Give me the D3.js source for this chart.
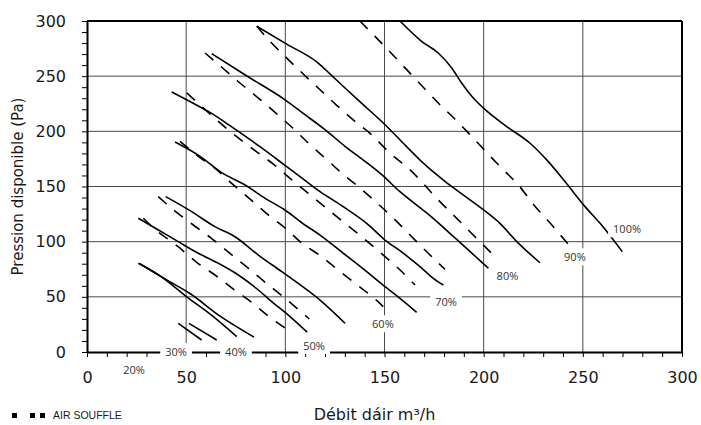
<!DOCTYPE html>
<html>
<head>
<meta charset="utf-8">
<script src="https://cdn.jsdelivr.net/npm/d3@7"></script>
<style>
  body { margin: 0; background: #fff; }
</style>
</head>
<body>
<div id="chart"></div>
<script>
// DATA (flow m3/h, pressure Pa)
const xTicks = [0, 50, 100, 150, 200, 250, 300];
const yTicks = [0, 50, 100, 150, 200, 250, 300];
const gridVals = [50, 100, 150, 200, 250];

const s100 = [[157.8,300],[168.7,281.6],[177.1,271],[183.9,257.4],[188.9,243.8],[194,231.8],[199.8,221.2],[211.6,204.3],[223.4,189.2],[231.8,174.1],[241,154.5],[251,132],[258.7,116.6],[269.9,90.9]];
const d90 = [[137.6,300],[145.2,286.1],[153.3,271],[161.2,255.9],[169.1,240.8],[177.1,225.7],[185.6,211],[193.9,195.5],[203,178],[210,165],[217.5,151.4],[225,134],[235.1,113.6],[243.2,96.4]];
const s90 = [[85.6,295.2],[100.7,279],[116.6,261.9],[123.4,250.5],[130.1,239.3],[140.2,222.7],[150.3,206],[160.4,187.5],[170.4,169.8],[180.5,154.7],[190,142],[199.8,129],[208.2,116.6],[216.7,100],[228.4,80.9]];
const d80 = [[85.6,295.2],[93.1,280],[101.5,265],[109.4,251.3],[117.5,237.7],[125.9,223.6],[135.1,209],[143.5,196.9],[152.8,180.1],[162.9,165],[168.7,154.4],[176.3,139.3],[184.7,124.2],[193.1,109],[204.9,87.9]];
const s80 = [[62.9,270.4],[81,249.7],[99.5,229],[109.9,215.1],[120,201.5],[130.1,186.4],[140.2,172.8],[148.6,160.7],[157.8,145.3],[171.3,126],[186.4,102],[202.4,75.9]];
const d70 = [[59.5,271],[68.4,257.4],[77.1,243.8],[86.4,230.2],[94.8,217.2],[103.7,203],[111.6,189.4],[120,175.8],[128.4,162.2],[137.7,148.5],[146.4,134.8],[154.5,121.2],[162.9,106],[170.9,91.5],[180.5,74.9]];
const s70 = [[42.7,235.7],[53.6,225.4],[63,216],[73,204],[87.2,186.1],[100.7,168],[107.4,159],[117.5,145.3],[129.2,131.7],[141,116.6],[150.3,101.5],[159.5,89.5],[167.9,77.3],[174.6,66.8],[179.7,60.7]];
const d60 = [[50.3,234.8],[58.6,221.2],[67.1,207.6],[76.3,194],[85.2,181.9],[94.3,169.8],[103.2,156.2],[111.6,143.8],[120.8,130.2],[130.1,116.6],[138.5,104.5],[147.7,90.4],[156.1,77.3],[165.4,60.7]];
const s60 = [[44.4,190.3],[57,177.3],[67.5,163],[79.7,151.4],[89.8,139.3],[99.8,128.7],[109.9,115.1],[117.5,106],[129.2,89.5],[141,72.8],[150.3,59.2],[157.8,48.6],[166.2,36]];
const d50 = [[46.9,191],[56.1,177.4],[65.4,165.2],[73.8,151.4],[82.7,137.8],[91.4,124.2],[100.7,111.2],[107.4,100],[118.3,86.4],[127.2,73.4],[136.3,60.7],[145.2,48],[149.4,41.1]];
const s50 = [[39.7,140.8],[52.8,127.2],[64.5,113.6],[74.6,104.5],[86.4,87.9],[98.2,72.8],[109.9,57.7],[117.5,47.1],[130.1,26]];
const d40 = [[35.9,140.8],[44.7,127.2],[53.6,115.1],[63.2,102.4],[72.1,89.4],[81,76.4],[89.8,63.2],[99,50],[107.4,37.2],[112.1,29.9]];
const s40 = [[25.9,121.2],[36,110.6],[46,100],[56.1,89.5],[66.2,80.4],[76.3,69.8],[86.4,56.2],[93.1,45.6],[101.5,33.5],[111,18]];
const d30 = [[28.4,121.2],[33.4,112.6],[46,95.4],[55.3,81.3],[64.5,69.8],[73.8,57],[83,45],[91.8,32],[101.2,20],[102.4,18.4]];
const s30a = [[25.9,80.4],[36.8,69],[50.3,50],[63.7,32],[75.5,13.9]];
const s30b = [[26.7,80],[40.2,65.3],[51.9,53],[67.1,32.5],[84.2,13.5]];
const s20a = [[46,26],[57.8,10.9]];
const s20b = [[51.4,26],[65.4,10.9]];

const pctLabels = ["20%", "30%", "40%", "50%", "60%", "70%", "80%", "90%", "100%"];
const pctFlow   = [23.7, 44.9, 75.1, 114.5, 149.2, 181, 212, 246, 272.3];
const pctPress  = [-16.6, 0, 0, 5.4, 25.1, 45, 68.6, 85.8, 111.2];

// SIZES
const width = 701, height = 425;

// SCALES
const x = d3.scaleLinear().domain([0, 300]).range([87, 682]);
const y = d3.scaleLinear().domain([0, 300]).range([352, 21]);

const svg = d3.select('#chart')
    .append('svg')
    .attr('width', width)
    .attr('height', height)
    .style('background-color', '#fff');

// GRID
svg.append('g').selectAll('line')
    .data(gridVals)
    .join('line')
    .attr('x1', d => x(d)).attr('x2', d => x(d))
    .attr('y1', y(0)).attr('y2', y(300))
    .attr('stroke', '#4a4a4a').attr('stroke-width', 1);

svg.append('g').selectAll('line')
    .data(gridVals)
    .join('line')
    .attr('x1', x(0)).attr('x2', x(300))
    .attr('y1', d => y(d)).attr('y2', d => y(d))
    .attr('stroke', '#4a4a4a').attr('stroke-width', 1);

// FRAME (top + right)
svg.append('line')
    .attr('x1', x(0)).attr('x2', x(300)).attr('y1', y(300)).attr('y2', y(300))
    .attr('stroke', '#000').attr('stroke-width', 2);
svg.append('line')
    .attr('x1', x(300)).attr('x2', x(300)).attr('y1', y(0)).attr('y2', y(300))
    .attr('stroke', '#000').attr('stroke-width', 2);

// CURVES
const line = d3.line()
    .x(d => x(d[0]))
    .y(d => y(d[1]))
    .curve(d3.curveMonotoneX);

const solids = [s100, s90, s80, s70, s60, s50, s40, s30a, s30b, s20a, s20b];
const dashes = [d90, d80, d70, d60, d50, d40, d30];

svg.append('g').selectAll('path')
    .data(solids)
    .join('path')
    .attr('d', line)
    .attr('fill', 'none')
    .attr('stroke', '#000')
    .attr('stroke-width', 1.6);

svg.append('g').selectAll('path')
    .data(dashes)
    .join('path')
    .attr('d', line)
    .attr('fill', 'none')
    .attr('stroke', '#000')
    .attr('stroke-width', 1.6)
    .attr('stroke-dasharray', '11,10');

// AXES
const xAxis = d3.axisBottom(x)
    .tickValues(d3.range(0, 301, 10))
    .tickSizeInner(5).tickSizeOuter(0).tickPadding(15)
    .tickFormat(d => xTicks.includes(d) ? d : '');
const yAxis = d3.axisLeft(y)
    .tickValues(d3.range(0, 301, 10))
    .tickSizeInner(5).tickSizeOuter(0).tickPadding(16)
    .tickFormat(d => yTicks.includes(d) ? d : '');

const gx = svg.append('g')
    .attr('transform', `translate(0, ${y(0)})`)
    .call(xAxis);
const gy = svg.append('g')
    .attr('transform', `translate(${x(0)}, 0)`)
    .call(yAxis);

[gx, gy].forEach(g => {
    g.select('.domain').attr('stroke', '#000').attr('stroke-width', 2);
    g.selectAll('.tick line').attr('stroke', '#000').attr('stroke-width', 1);
    g.selectAll('text')
        .style('font-family', 'DejaVu Sans')
        .style('font-size', '16px')
        .attr('fill', '#1a1a1a');
});

// PERCENT LABELS (white box behind)
pctLabels.forEach((t, i) => {
    const g = svg.append('g');
    const txt = g.append('text')
        .attr('x', x(pctFlow[i]))
        .attr('y', y(pctPress[i]))
        .attr('dy', '0.36em')
        .attr('text-anchor', 'middle')
        .style('font-family', 'Open Sans')
        .style('font-size', '11px')
        .attr('fill', '#333')
        .text(t);
    const b = txt.node().getBBox();
    g.insert('rect', 'text')
        .attr('x', b.x - 5).attr('y', b.y - 1)
        .attr('width', b.width + 10).attr('height', b.height + 2)
        .attr('fill', '#fff');
});

// AXIS TITLES
svg.append('text')
    .attr('x', 374.5)
    .attr('y', 420)
    .attr('text-anchor', 'middle')
    .style('font-family', 'DejaVu Sans')
    .style('font-size', '16px')
    .attr('fill', '#1a1a1a')
    .text('Débit dáir m³/h');

svg.append('text')
    .attr('transform', `translate(23, ${(y(0) + y(300)) / 2}) rotate(-90)`)
    .attr('text-anchor', 'middle')
    .style('font-family', 'DejaVu Sans')
    .style('font-size', '15px')
    .attr('fill', '#1a1a1a')
    .text('Pression disponible (Pa)');

// LEGEND
const legend = svg.append('g').attr('transform', 'translate(12, 413)');
legend.selectAll('rect')
    .data([0, 18, 28])
    .join('rect')
    .attr('x', d => d).attr('y', 0)
    .attr('width', 5).attr('height', 5)
    .attr('fill', '#000');
legend.append('text')
    .attr('x', 41).attr('y', 5.5)
    .style('font-family', 'Liberation Sans')
    .style('font-size', '10.5px')
    .attr('fill', '#1a1a1a')
    .text('AIR SOUFFLE');
</script>
</body>
</html>
